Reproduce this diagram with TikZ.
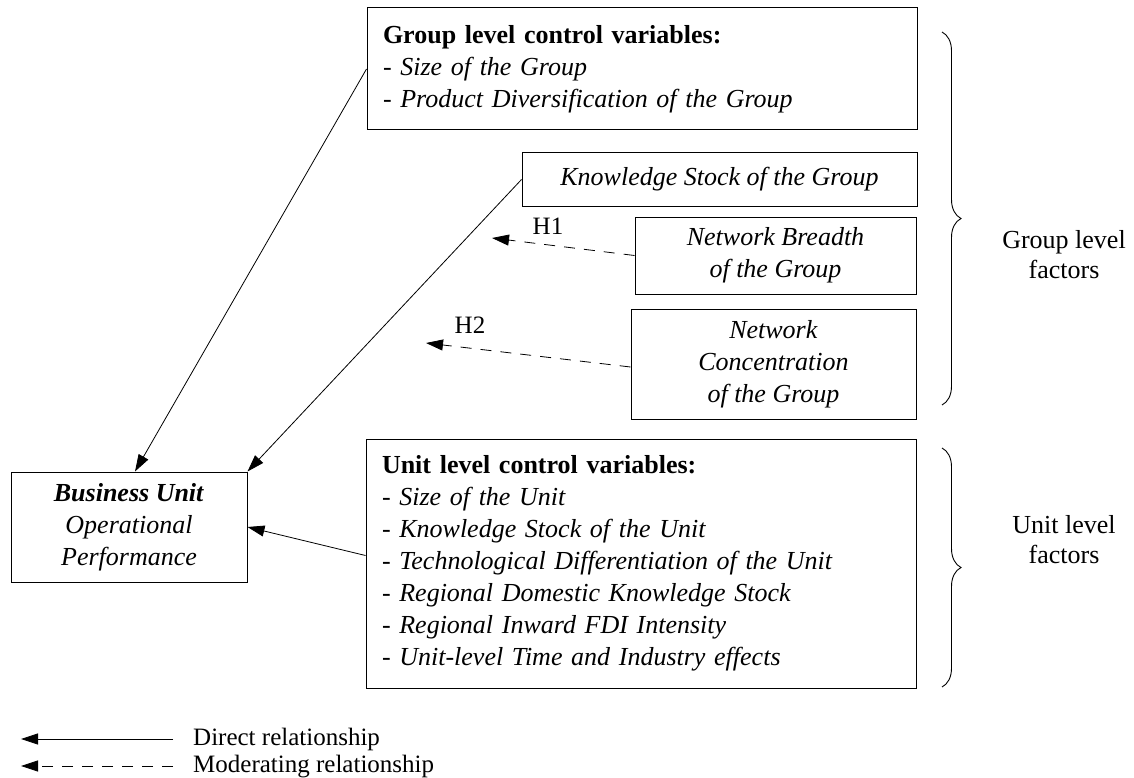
\documentclass[tikz,border=0pt]{standalone}
\usepackage{fontspec}
\setmainfont{Liberation Serif}
\usetikzlibrary{arrows.meta,decorations.pathreplacing}
\begin{document}
\begin{tikzpicture}[x=1pt,y=-1pt,
  every node/.style={font=\fontsize{25}{32}\selectfont, inner sep=0pt},
  box/.style={draw, line width=1pt, font=\fontsize{26}{32}\selectfont},
  direct/.style={line width=0.8pt, -{Triangle[length=17pt,width=11pt]}},
  moder/.style={line width=0.8pt, dash pattern=on 11pt off 9pt, -{Triangle[length=17pt,width=11pt]}},
  bracestyle/.style={decorate, decoration={brace, amplitude=19pt}, line width=0.9pt},
  sidelabel/.style={align=center, font=\fontsize{26}{30}\selectfont}]
\useasboundingbox (0,0) rectangle (1134,778);

% boxes
\node[box, minimum width=550pt, minimum height=122pt, text width=518pt, align=left] (gc) at (642,69)
  {\textbf{Group level control variables:}\\- \textit{Size of the Group}\\- \textit{Product Diversification of the Group}};
\node[box, minimum width=395pt, minimum height=53pt] (ks) at (719.5,179.5)
  {\textit{Knowledge Stock of the Group}};
\node[box, minimum width=281pt, minimum height=77pt, align=center] (nb) at (775.5,255.5)
  {\textit{Network Breadth}\\\textit{of the Group}};
\node[box, minimum width=285pt, minimum height=110pt, align=center] (nc) at (773.5,364)
  {\textit{Network}\\\textit{Concentration}\\\textit{of the Group}};
\node[box, minimum width=550pt, minimum height=249pt, text width=518pt, align=left] (uc) at (641,563.5)
  {\textbf{Unit level control variables:}\\
   - \textit{Size of the Unit}\\
   - \textit{Knowledge Stock of the Unit}\\
   - \textit{Technological Differentiation of the Unit}\\
   - \textit{Regional Domestic Knowledge Stock}\\
   - \textit{Regional Inward FDI Intensity}\\
   - \textit{Unit-level Time and Industry effects}};
\node[box, minimum width=236pt, minimum height=110pt, align=center] (bu) at (129,527)
  {\textbf{\textit{Business Unit}}\\\textit{Operational}\\\textit{Performance}};

% direct relationships
\draw[direct] (gc.west) -- ([xshift=6pt]bu.north);
\draw[direct] (ks.west) -- (bu.north east);
\draw[direct] ([yshift=8pt]uc.west) -- (bu.east);

% moderating relationships
\coordinate (h1end) at (492,238);
\coordinate (h2end) at (426,343);
\draw[moder] (nb.west) -- (h1end);
\draw[moder] ([yshift=-3pt]nc.west) -- (h2end);
\node (h1) at (548,226) {H1};
\node (h2) at (470,325) {H2};

% braces
\draw[bracestyle] (942,32) -- (942,405);
\draw[bracestyle] (942,448) -- (942,687);
\node[sidelabel] (glf) at (1064,255) {Group level\\factors};
\node[sidelabel] (ulf) at (1064,540) {Unit level\\factors};

% legend
\coordinate (lgA) at (173,739);
\coordinate (lgB) at (21,739);
\coordinate (lgC) at (173,766);
\coordinate (lgD) at (21,766);
\draw[direct] (lgA) -- (lgB);
\draw[moder] (lgC) -- (lgD);
\node[anchor=base west] (lgt1) at (193,745) {Direct relationship};
\node[anchor=base west] (lgt2) at (193,772) {Moderating relationship};
\end{tikzpicture}
\end{document}
